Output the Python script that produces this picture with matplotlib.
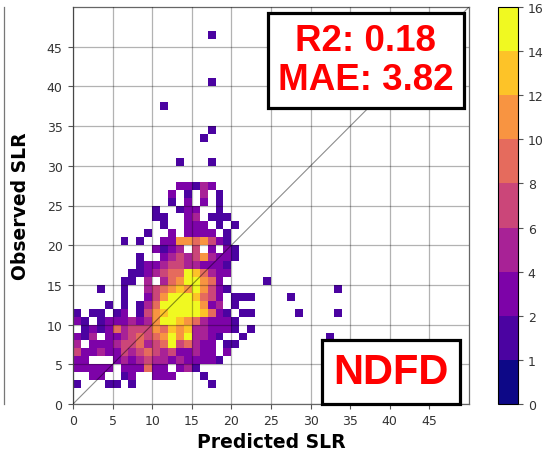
import numpy as np
import matplotlib
matplotlib.use("Agg")
import matplotlib.pyplot as plt
from matplotlib.colors import BoundaryNorm
from matplotlib.lines import Line2D

# ---- data -----------------------------------------------------------------
# 2D histogram counts, one string per observed SLR value (top row first),
# one char per predicted SLR value 0..24.
# '.'=0, '1'=1, '2'=2, '4'=4, '6'=6, '8'=8, 'a'=10, 'c'=12, 'e'=14
obs_rows = list(range(27, 1, -1))
count_rows = [
    "....." "....." "...22" "142.." ".....",  # 27
    "....." "....." "..2.1" ".4.1." ".....",  # 26
    "....." "....." "..1.2" ".2.1." ".....",  # 25
    "....." "....." "1..12" "2..1." ".....",  # 24
    "....." "....." "11..2" "4.111" ".....",  # 23
    "....." "....." ".1..2" "22.1." "1....",  # 22
    "....." "....1" "..2.2" "222.1" ".....",  # 21
    "....." ".1.1." ".22aa" "8a621" ".....",  # 20
    "....." "....." "2124." "6.2.2" "1....",  # 19
    "....." "...1." ".2464" "6a422" "1....",  # 18
    "....." "...12" "24664" "42221" ".....",  # 17
    "....." "..112" "4688e" "c8422" ".....",  # 16
    "....." ".11.4" ".48ae" "ea82." "....1",  # 15
    "...1." ".1..4" "68aca" "ea621" ".....",  # 14
    "....." ".1..2" "6aeee" "c862." "111..",  # 13
    "....1" ".1.14" "8eeee" "ea24." "1....",  # 12
    "1.11." "12.16" "aceee" "ec821" ".11..",  # 11
    "21.12" "22424" "aeeca" "84222" "1....",  # 10
    ".1212" "84666" "a8cac" "44222" "1.1..",  # 9
    "214.2" "24686" "8aeae" "4421." ".1...",  # 8
    "4.222" "46684" "68e68" "422.1" "1....",  # 7
    "62242" "26468" "64622" "422.2" ".....",  # 6
    "22..." "24246" "44242" "2221." ".....",  # 5
    "22222" ".2228" "22.24" "1...." ".....",  # 4
    "..22." ".12.." "222.." ".1..." ".....",  # 3
    "1...1" "1.1.." "....." "..1.." ".....",  # 2
]
code_values = {'1': 1, '2': 2, '4': 4, '6': 6, '8': 8, 'a': 10, 'c': 12, 'e': 14}

# isolated single-count cells outside the block above
outlier_pred = [17, 17, 11, 17, 16, 13, 17, 27, 28, 33, 33, 32]
outlier_obs = [46, 40, 37, 34, 33, 30, 30, 13, 11, 14, 11, 8]

r2_text = "R2: 0.18"
mae_text = "MAE: 3.82"
model_name = "NDFD"

cbar_bounds = [0, 1, 2, 4, 6, 8, 10, 12, 14, 16]
ticks = [0, 5, 10, 15, 20, 25, 30, 35, 40, 45]

# ---- assemble samples ------------------------------------------------------
pred, obs, wts = [], [], []
for o, row in zip(obs_rows, count_rows):
    for p, ch in enumerate(row):
        if ch in code_values:
            pred.append(p)
            obs.append(o)
            wts.append(code_values[ch])
for p, o in zip(outlier_pred, outlier_obs):
    pred.append(p)
    obs.append(o)
    wts.append(1)
pred = np.array(pred, float)
obs = np.array(obs, float)
wts = np.array(wts, float)

# ---- figure ----------------------------------------------------------------
W, H = 549, 452
fig = plt.figure(figsize=(W / 100, H / 100), dpi=100)
ax = fig.add_axes([73 / W, 1 - 405 / H, 396 / W, 397 / H])
cax = fig.add_axes([498 / W, 1 - 405 / H, 20 / W, 397 / H])

cmap = plt.get_cmap('plasma')
norm = BoundaryNorm(cbar_bounds, cmap.N)
edges = np.arange(0, 51, 1)
h = ax.hist2d(pred, obs, bins=[edges, edges], weights=wts, cmap=cmap,
              norm=norm, cmin=1)

ax.plot([0, 50], [0, 50], color='black', alpha=0.45, lw=0.8, zorder=3)
ax.set_xlim(0, 50)
ax.set_ylim(0, 50)
ax.set_xticks(ticks)
ax.set_yticks(ticks)
ax.grid(True, color='black', alpha=0.3, lw=0.9)
ax.set_axisbelow(False)
ax.tick_params(labelsize=9, labelcolor='#333333', color='#555555',
               length=3.5, pad=4)
for s in ax.spines.values():
    s.set_color('#666666')
    s.set_linewidth(0.9)

ax.set_xlabel("Predicted SLR", fontsize=13.5, fontweight='bold', labelpad=3)
ax.set_ylabel("Observed SLR", fontsize=13.5, fontweight='bold', labelpad=12)

ax.text(0.739, 0.866, r2_text + "\n" + mae_text, transform=ax.transAxes,
        ha='center', va='center', color='#ff0000', fontsize=26.5,
        fontweight='bold', family='Liberation Sans', linespacing=1.15,
        bbox=dict(boxstyle='square,pad=0.28', fc='white', ec='black', lw=2.3),
        zorder=5)
ax.text(0.803, 0.081, model_name, transform=ax.transAxes,
        ha='center', va='center', color='#ff0000', fontsize=30,
        fontweight='bold', family='Liberation Sans',
        bbox=dict(boxstyle='square,pad=0.28', fc='white', ec='black', lw=2.3),
        zorder=5)

cb = fig.colorbar(h[3], cax=cax, boundaries=cbar_bounds, ticks=cbar_bounds,
                  spacing='uniform')
cb.ax.tick_params(labelsize=9, labelcolor='#333333', color='#555555', length=3.5)
cb.outline.set_linewidth(0.8)

# edge of the neighbouring panel, cropped at the left border
fig.add_artist(Line2D([3.5 / W, 3.5 / W], [1 - 405 / H, 1 - 8 / H],
                      transform=fig.transFigure, color='#777777', lw=0.9))

fig.savefig("out.png", dpi=100)
